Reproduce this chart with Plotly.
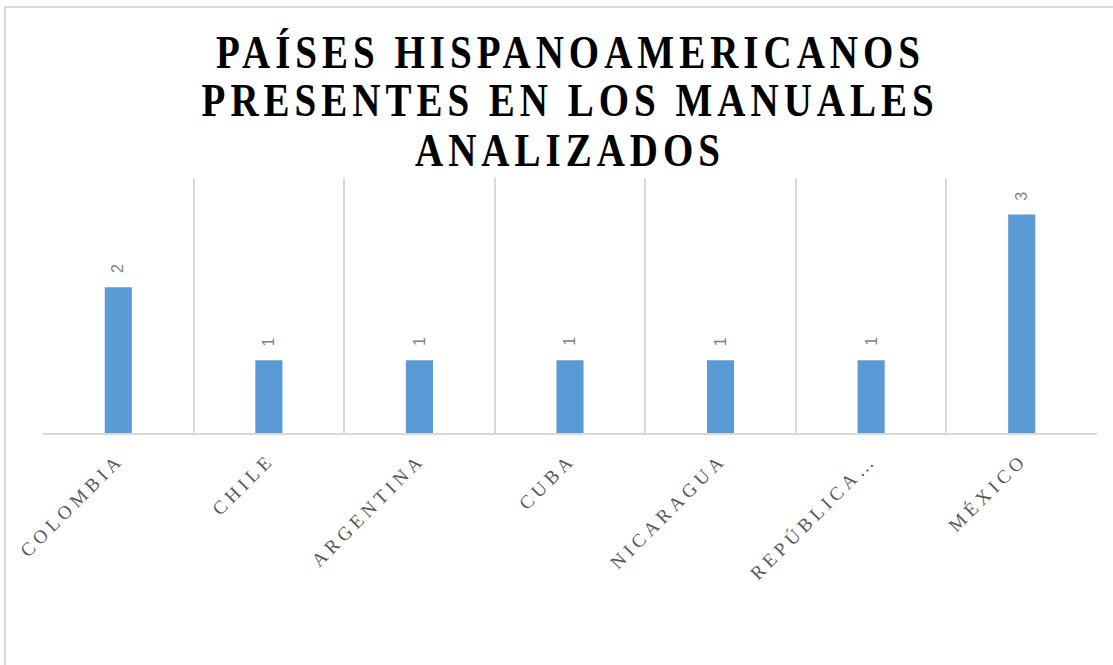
import plotly.graph_objects as go

# Countries and number of textbooks in which each one appears
paises = ["COLOMBIA", "CHILE", "ARGENTINA", "CUBA", "NICARAGUA", "REPÚBLICA…", "MÉXICO"]
apariciones = [2, 1, 1, 1, 1, 1, 3]

# Chart heading, one entry per line
titulo_lineas = ["PAÍSES HISPANOAMERICANOS", "PRESENTES EN LOS MANUALES", "ANALIZADOS"]

BAR_COLOR = "#5B9BD5"
GRID_COLOR = "#D9D9D9"

# Plot-area geometry in pixels (used to place the heading lines)
MT, MB, H = 178, 232, 665
PLOT_H = H - MT - MB

fig = go.Figure()
fig.add_trace(go.Bar(
    x=paises,
    y=apariciones,
    marker=dict(color=BAR_COLOR, line=dict(width=0)),
    width=0.18,
    hoverinfo="x+y",
))

# Heading lines (annotations 0..2)
for i, linea in enumerate(titulo_lineas):
    ypix = 52 + 49 * i
    fig.add_annotation(
        xref="paper", yref="paper",
        x=0.5, y=(H - MB - ypix) / PLOT_H,
        text=linea, showarrow=False,
        xanchor="center", yanchor="middle",
        font=dict(family="Liberation Serif", size=39, color="#000000", weight="bold"),
    )

# Value labels above each bar, rotated to read bottom-to-top
for pais, valor in zip(paises, apariciones):
    fig.add_annotation(
        x=pais, y=valor, text=str(valor),
        textangle=-90, showarrow=False,
        xanchor="center", yanchor="bottom", yshift=12,
        font=dict(family="Liberation Sans", size=16, color="#7F7F7F"),
    )

# Light frame around the chart area
fig.add_shape(
    type="rect", xref="paper", yref="paper",
    x0=(5 - 43) / 1054, x1=1.05, y0=-0.95, y1=1 + (MT - 7) / PLOT_H,
    line=dict(color=GRID_COLOR, width=2), fillcolor="rgba(0,0,0,0)",
    layer="below",
)

fig.update_layout(
    width=1113, height=H,
    margin=dict(l=43, r=16, t=MT, b=MB),
    paper_bgcolor="white", plot_bgcolor="white",
    showlegend=False,
    xaxis=dict(
        type="category",
        tickson="boundaries",
        showgrid=True, gridcolor=GRID_COLOR, gridwidth=2,
        showline=True, linecolor=GRID_COLOR, linewidth=2,
        ticks="", tickangle=-45, ticklabelstandoff=6,
        tickfont=dict(family="Liberation Serif", size=19, color="#595959"),
        range=[-0.5, 6.5],
    ),
    yaxis=dict(
        range=[0, 3.5],
        showgrid=False, zeroline=False, showline=False,
        showticklabels=False, ticks="",
    ),
)

# Letter spacing for the heading and category labels; the heading is
# drawn in a tall, condensed style by stretching each line vertically.
post = """
var gd = document.getElementsByClassName('plotly-graph-div')[0];
function estilo(){
  gd.querySelectorAll('g.annotation').forEach(function(g){
    var idx = parseInt(g.getAttribute('data-index'));
    if (idx > 2) return;
    var t = g.querySelector('text.annotation-text');
    if (!t || t.getAttribute('data-stretched')) return;
    t.setAttribute('letter-spacing', '5px');
    var b = t.getBBox();
    var cy = b.y + b.height / 2;
    var old = t.getAttribute('transform') || '';
    t.setAttribute('transform', old + ' translate(0,' + cy + ') scale(1,1.18) translate(0,' + (-cy) + ')');
    t.setAttribute('data-stretched', '1');
  });
  gd.querySelectorAll('.xtick text').forEach(function(t){ t.setAttribute('letter-spacing', '4.5px'); });
}
estilo();
gd.on('plotly_afterplot', estilo);
"""

fig.write_html("out.html", post_script=post)
